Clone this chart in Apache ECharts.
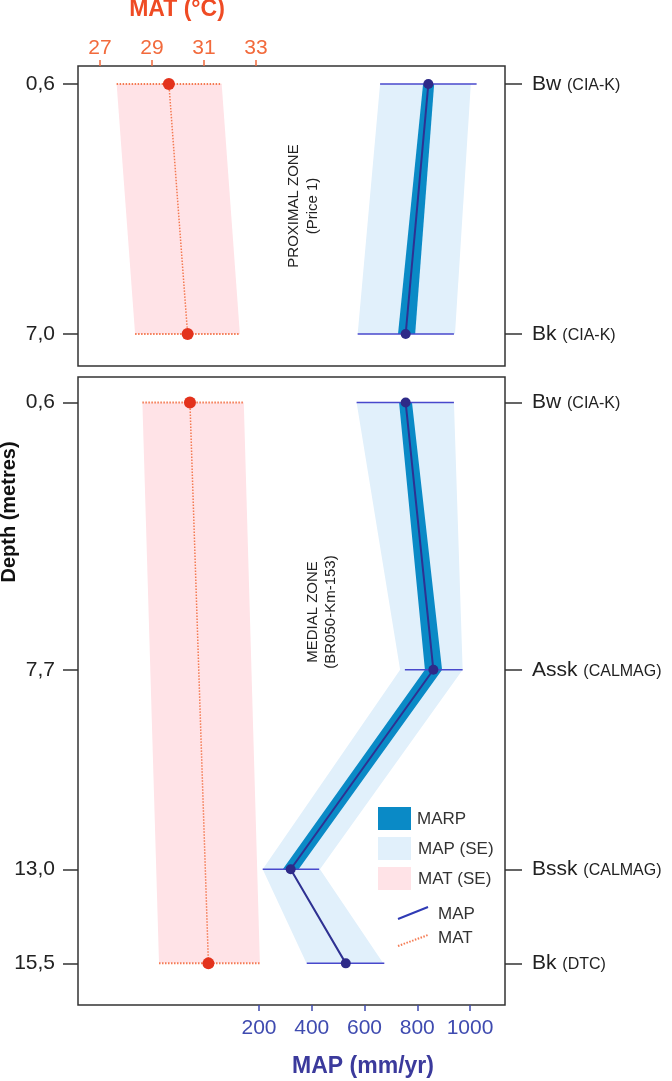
<!DOCTYPE html>
<html><head><meta charset="utf-8">
<script src="https://cdn.jsdelivr.net/npm/echarts@6/dist/echarts.min.js"></script>
<style>html,body{margin:0;padding:0;background:#fff}#chart{width:672px;height:1081px}</style>
</head><body><div id="chart"></div>
<script>
// ---- axis ticks ----
const matTicks = [27, 29, 31, 33];
const mapTicks = [200, 400, 600, 800, 1000];

// ---- Proximal zone (Price 1) ----
const proxDepth = [0.6, 7.0];
const proxDepthLabels = ['0,6', '7,0'];
const proxHorizon = ['Bw', 'Bk'];
const proxMethod = ['CIA-K', 'CIA-K'];
const proxMAT = [29.65, 30.37];
const proxMATLo = [27.64, 28.35];
const proxMATHi = [31.68, 32.38];
const proxMAP = [842, 756];
const proxMAPBarLo = [659, 574];
const proxMAPBarHi = [1025, 939];
const proxMAPBandLo = [659, 574];
const proxMAPBandHi = [1003, 943];
const proxMARPLo = [822, 727];
const proxMARPHi = [864, 792];

// ---- Medial zone (BR050-Km-153) ----
const medDepth = [0.6, 7.7, 13.0, 15.5];
const medDepthLabels = ['0,6', '7,7', '13,0', '15,5'];
const medHorizon = ['Bw', 'Assk', 'Bssk', 'Bk'];
const medMethod = ['CIA-K', 'CALMAG', 'CALMAG', 'DTC'];
const medMATDepth = [0.6, 15.5];
const medMAT = [30.46, 31.17];
const medMATLo = [28.63, 29.27];
const medMATHi = [32.53, 33.15];
const medMAP = [756, 861, 320, 529];
const medMAPBarLo = [570, 753, 214, 381];
const medMAPBarHi = [939, 972, 428, 675];
const medMAPBandLo = [570, 735, 214, 380];
const medMAPBandHi = [939, 972, 431, 671];
const medMARPDepth = [0.6, 7.7, 13.0];
const medMARPLo = [731, 829, 290];
const medMARPHi = [780, 894, 350];

// ---- styling ----
const FONT = "'Liberation Sans', Arial, Helvetica, sans-serif";
const C = {
  matBand: '#FFE3E7', mapBand: '#E1F0FB', marp: '#0A8AC6',
  mapLine: '#2E3192', mapPt: '#2E2A88', mapBar: '#4848CC',
  matPt: '#E3321C', matLine: '#F47A52', matTick: '#F26A3C', matTitle: '#EF4B24',
  mapTick: '#3F4BB0', mapTitle: '#3B3A9C', frame: '#333', text: '#222'
};
const MAT_RANGE = [26.154, 42.577];
const MAP_RANGE = [-486.3, 1132.6];

function bandSeries(xi, yi, depth, lo, hi, color, z) {
  return {
    type: 'custom', xAxisIndex: xi, yAxisIndex: yi, z: z, silent: true,
    encode: { x: [0, 1], y: 2 },
    data: depth.map((d, i) => [lo[i], hi[i], d]),
    renderItem(params, api) {
      if (params.dataIndex !== 0) return null;
      const pts = [];
      for (let i = 0; i < depth.length; i++) pts.push(api.coord([lo[i], depth[i]]));
      for (let i = depth.length - 1; i >= 0; i--) pts.push(api.coord([hi[i], depth[i]]));
      return { type: 'polygon', shape: { points: pts }, style: { fill: color } };
    }
  };
}
function barSeries(xi, yi, depth, lo, hi, color, width, dash, z) {
  return {
    type: 'custom', xAxisIndex: xi, yAxisIndex: yi, z: z, silent: true,
    encode: { x: [0, 1], y: 2 },
    data: depth.map((d, i) => [lo[i], hi[i], d]),
    renderItem(params, api) {
      const a = api.coord([api.value(0), api.value(2)]);
      const b = api.coord([api.value(1), api.value(2)]);
      return { type: 'line', shape: { x1: a[0], y1: a[1], x2: b[0], y2: b[1] },
        style: { stroke: color, lineWidth: width, lineDash: dash } };
    }
  };
}
function lineSeries(xi, yi, depth, vals, lineColor, lineWidth, lineType, ptColor, ptSize, z) {
  return {
    type: 'line', xAxisIndex: xi, yAxisIndex: yi, z: z, silent: true,
    data: vals.map((v, i) => [v, depth[i]]),
    symbol: 'circle', symbolSize: ptSize, showSymbol: true,
    itemStyle: { color: ptColor, borderWidth: 0 },
    lineStyle: { color: lineColor, width: lineWidth, type: lineType }
  };
}
function depthFmt(depths, labels) {
  return v => { const i = depths.findIndex(d => Math.abs(d - v) < 1e-6); return i >= 0 ? labels[i] : ''; };
}
function horizonFmt(depths, hz, mt) {
  return v => { const i = depths.findIndex(d => Math.abs(d - v) < 1e-6); return i >= 0 ? `{a|${hz[i]} }{b|(${mt[i]})}` : ''; };
}
function leftY(gi, depths, labels, min, max) {
  return { type: 'value', gridIndex: gi, position: 'left', inverse: true, min, max,
    axisLine: { show: false, onZero: false }, splitLine: { show: false },
    axisTick: { show: true, customValues: depths, length: 15, lineStyle: { color: C.frame, width: 1.5 } },
    axisLabel: { customValues: depths, formatter: depthFmt(depths, labels), margin: 23,
      color: C.text, fontSize: 21, fontFamily: FONT } };
}
function rightY(gi, depths, hz, mt, min, max) {
  return { type: 'value', gridIndex: gi, position: 'right', inverse: true, min, max,
    axisLine: { show: false, onZero: false }, splitLine: { show: false },
    axisTick: { show: true, customValues: depths, length: 17, lineStyle: { color: C.frame, width: 1.5 } },
    axisLabel: { customValues: depths, formatter: horizonFmt(depths, hz, mt), margin: 27,
      rich: { a: { fontSize: 21, color: C.text, fontFamily: FONT, verticalAlign: 'bottom' },
              b: { fontSize: 16, color: C.text, fontFamily: FONT, verticalAlign: 'bottom', padding: [0, 0, 1, 0] } } } };
}
const plain = v => String(v);

const chart = echarts.init(document.getElementById('chart'));
chart.setOption({
  animation: false,
  textStyle: { fontFamily: FONT },
  grid: [
    { left: 78, right: 167, top: 66, height: 300, show: true, borderColor: C.frame, borderWidth: 1.5, backgroundColor: 'transparent' },
    { left: 78, right: 167, top: 377, height: 628, show: true, borderColor: C.frame, borderWidth: 1.5, backgroundColor: 'transparent' }
  ],
  xAxis: [
    { type: 'value', gridIndex: 0, position: 'top', min: MAT_RANGE[0], max: MAT_RANGE[1],
      axisLine: { show: false, onZero: false }, splitLine: { show: false },
      axisTick: { show: true, customValues: matTicks, length: 6, lineStyle: { color: C.matTick, width: 1.5 } },
      axisLabel: { customValues: matTicks, formatter: plain, margin: 7, color: C.matTick, fontSize: 21, fontFamily: FONT } },
    { type: 'value', gridIndex: 0, position: 'bottom', min: MAP_RANGE[0], max: MAP_RANGE[1], show: false, axisLine: { onZero: false } },
    { type: 'value', gridIndex: 1, position: 'top', min: MAT_RANGE[0], max: MAT_RANGE[1], show: false, axisLine: { onZero: false } },
    { type: 'value', gridIndex: 1, position: 'bottom', min: MAP_RANGE[0], max: MAP_RANGE[1],
      axisLine: { show: false, onZero: false }, splitLine: { show: false },
      axisTick: { show: true, customValues: mapTicks, length: 6, lineStyle: { color: C.mapTick, width: 1.5 } },
      axisLabel: { customValues: mapTicks, formatter: plain, margin: 13, color: C.mapTick, fontSize: 21, fontFamily: FONT } }
  ],
  yAxis: [
    leftY(0, proxDepth, proxDepthLabels, 0.1392, 7.8192),
    rightY(0, proxDepth, proxHorizon, proxMethod, 0.1392, 7.8192),
    leftY(1, medDepth, medDepthLabels, -0.0786, 16.606),
    rightY(1, medDepth, medHorizon, medMethod, -0.0786, 16.606)
  ],
  series: [
    // proximal
    bandSeries(0, 0, proxDepth, proxMATLo, proxMATHi, C.matBand, 1),
    bandSeries(1, 0, proxDepth, proxMAPBandLo, proxMAPBandHi, C.mapBand, 1),
    bandSeries(1, 0, proxDepth, proxMARPLo, proxMARPHi, C.marp, 2),
    barSeries(0, 0, proxDepth, proxMATLo, proxMATHi, C.matLine, 2, [1.5, 1.5], 3),
    barSeries(1, 0, proxDepth, proxMAPBarLo, proxMAPBarHi, C.mapBar, 1.5, null, 3),
    lineSeries(0, 0, proxDepth, proxMAT, C.matLine, 1.5, [1.5, 1.5], C.matPt, 12, 4),
    lineSeries(1, 0, proxDepth, proxMAP, C.mapLine, 2, 'solid', C.mapPt, 10, 4),
    // medial
    bandSeries(2, 2, medMATDepth, medMATLo, medMATHi, C.matBand, 1),
    bandSeries(3, 2, medDepth, medMAPBandLo, medMAPBandHi, C.mapBand, 1),
    bandSeries(3, 2, medMARPDepth, medMARPLo, medMARPHi, C.marp, 2),
    barSeries(2, 2, medMATDepth, medMATLo, medMATHi, C.matLine, 2, [1.5, 1.5], 3),
    barSeries(3, 2, medDepth, medMAPBarLo, medMAPBarHi, C.mapBar, 1.5, null, 3),
    lineSeries(2, 2, medMATDepth, medMAT, C.matLine, 1.5, [1.5, 1.5], C.matPt, 12, 4),
    lineSeries(3, 2, medDepth, medMAP, C.mapLine, 2, 'solid', C.mapPt, 10, 4)
  ],
  graphic: [
    { type: 'text', x: 177, y: 10, z: 10, style: { text: 'MAT (°C)', fill: C.matTitle, font: `bold 23px ${FONT}`, align: 'center', verticalAlign: 'middle', textAlign: 'center', textVerticalAlign: 'middle' } },
    { type: 'text', x: 363, y: 1067, z: 10, style: { text: 'MAP (mm/yr)', fill: C.mapTitle, font: `bold 23px ${FONT}`, align: 'center', verticalAlign: 'middle', textAlign: 'center', textVerticalAlign: 'middle' } },
    { type: 'text', x: 9, y: 512, rotation: Math.PI / 2, z: 10, style: { text: 'Depth (metres)', fill: '#111', font: `bold 20px ${FONT}`, align: 'center', verticalAlign: 'middle', textAlign: 'center', textVerticalAlign: 'middle' } },
    { type: 'text', x: 303, y: 206, rotation: Math.PI / 2, z: 10, style: { text: 'PROXIMAL ZONE\n(Price 1)', fill: '#222', font: `15px ${FONT}`, lineHeight: 19, align: 'center', verticalAlign: 'middle', textAlign: 'center', textVerticalAlign: 'middle' } },
    { type: 'text', x: 322, y: 612, rotation: Math.PI / 2, z: 10, style: { text: 'MEDIAL ZONE\n(BR050-Km-153)', fill: '#222', font: `15px ${FONT}`, lineHeight: 18, align: 'center', verticalAlign: 'middle', textAlign: 'center', textVerticalAlign: 'middle' } },
    // legend
    { type: 'rect', z: 10, shape: { x: 378, y: 807, width: 33, height: 23 }, style: { fill: C.marp } },
    { type: 'rect', z: 10, shape: { x: 378, y: 837, width: 33, height: 23 }, style: { fill: C.mapBand } },
    { type: 'rect', z: 10, shape: { x: 378, y: 867, width: 33, height: 23 }, style: { fill: C.matBand } },
    { type: 'text', x: 417, y: 819, z: 10, style: { text: 'MARP', fill: '#333', font: `17px ${FONT}`, align: 'left', verticalAlign: 'middle', textAlign: 'left', textVerticalAlign: 'middle' } },
    { type: 'text', x: 418, y: 849, z: 10, style: { text: 'MAP (SE)', fill: '#333', font: `17px ${FONT}`, align: 'left', verticalAlign: 'middle', textAlign: 'left', textVerticalAlign: 'middle' } },
    { type: 'text', x: 418, y: 879, z: 10, style: { text: 'MAT (SE)', fill: '#333', font: `17px ${FONT}`, align: 'left', verticalAlign: 'middle', textAlign: 'left', textVerticalAlign: 'middle' } },
    { type: 'line', z: 10, shape: { x1: 398, y1: 919, x2: 428, y2: 907 }, style: { stroke: '#2F3BB5', lineWidth: 2 } },
    { type: 'text', x: 438, y: 914, z: 10, style: { text: 'MAP', fill: '#333', font: `17px ${FONT}`, align: 'left', verticalAlign: 'middle', textAlign: 'left', textVerticalAlign: 'middle' } },
    { type: 'line', z: 10, shape: { x1: 398, y1: 946, x2: 428, y2: 935 }, style: { stroke: C.matLine, lineWidth: 2, lineDash: [1.5, 1.5] } },
    { type: 'text', x: 438, y: 938, z: 10, style: { text: 'MAT', fill: '#333', font: `17px ${FONT}`, align: 'left', verticalAlign: 'middle', textAlign: 'left', textVerticalAlign: 'middle' } }
  ]
});
</script></body></html>
